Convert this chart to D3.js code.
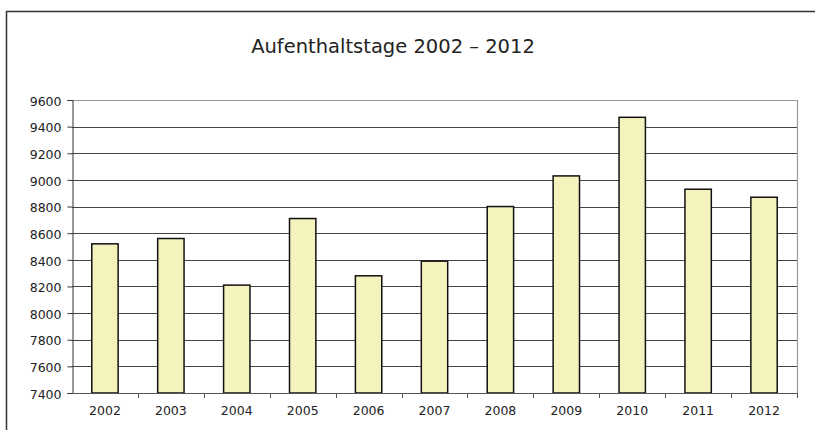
<!DOCTYPE html>
<html>
<head>
<meta charset="utf-8">
<script src="https://cdn.jsdelivr.net/npm/d3@7"></script>
<style>
  body { margin: 0; background: #fff; }
  text { font-family: "DejaVu Sans", Verdana, sans-serif; fill: #222; }
</style>
</head>
<body>
<div id="chart"></div>
<script>
// data
const years = ["2002", "2003", "2004", "2005", "2006", "2007", "2008", "2009", "2010", "2011", "2012"];
const tage = [8520, 8560, 8210, 8710, 8280, 8390, 8800, 9030, 9470, 8930, 8870];
const yTicks = [7400, 7600, 7800, 8000, 8200, 8400, 8600, 8800, 9000, 9200, 9400, 9600];
const title = "Aufenthaltstage 2002 \u2013 2012";

const width = 815, height = 430;
const plot = { left: 72, right: 797, top: 100, bottom: 393 };

const svg = d3.select("#chart")
  .append("svg")
  .attr("width", width)
  .attr("height", height);

// outer chart frame (runs off the right and bottom edge)
svg.append("rect")
  .attr("x", 6.5)
  .attr("y", 11.5)
  .attr("width", 820)
  .attr("height", 440)
  .attr("fill", "none")
  .attr("stroke", "#333")
  .attr("stroke-width", 1.5);

svg.append("text")
  .attr("x", 393)
  .attr("y", 53)
  .attr("text-anchor", "middle")
  .style("font-size", "19.5px")
  .attr("fill", "#222")
  .text(title);

const x = d3.scaleBand()
  .domain(years)
  .range([plot.left, plot.right])
  .padding(0);

const y = d3.scaleLinear()
  .domain([7400, 9600])
  .range([plot.bottom, plot.top]);

// gridlines
svg.append("g")
  .selectAll("line")
  .data(yTicks.slice(1, -1))
  .enter().append("line")
  .attr("x1", plot.left)
  .attr("x2", plot.right)
  .attr("y1", d => Math.round(y(d)) + 0.5)
  .attr("y2", d => Math.round(y(d)) + 0.5)
  .attr("stroke", "#444")
  .attr("stroke-width", 1);

// plot area border (top/right)
svg.append("path")
  .attr("d", `M${plot.left},${plot.top + 0.5}H${plot.right + 0.5}V${plot.bottom}`)
  .attr("fill", "none")
  .attr("stroke", "#999")
  .attr("stroke-width", 1.2);

// bars, Excel style gap width 150%
const barW = x.bandwidth() * 0.4;
svg.append("g")
  .selectAll("rect")
  .data(years.map((yr, i) => ({ yr, v: tage[i] })))
  .enter().append("rect")
  .attr("x", d => x(d.yr) + (x.bandwidth() - barW) / 2)
  .attr("width", barW)
  .attr("y", d => y(d.v))
  .attr("height", d => plot.bottom - y(d.v))
  .attr("fill", "#f5f3bd")
  .attr("stroke", "#111")
  .attr("stroke-width", 1.5);

// y axis
const yAxis = svg.append("g")
  .attr("transform", `translate(${plot.left + 0.5},0)`)
  .call(d3.axisLeft(y).tickValues(yTicks).tickSize(5).tickPadding(6).tickFormat(d3.format("d")));
yAxis.select(".domain").attr("stroke", "#333");
yAxis.selectAll(".tick line").attr("stroke", "#333");
yAxis.selectAll("text")
  .style("font-size", "12.5px")
  .attr("dy", "0.42em")
  .attr("fill", "#222");

// x axis, ticks between categories
const xAxis = svg.append("g")
  .attr("transform", `translate(0,${plot.bottom + 0.5})`)
  .call(d3.axisBottom(x).tickSize(0).tickPadding(13));
xAxis.select(".domain").attr("stroke", "#555").attr("d", `M${plot.left},0H${plot.right + 1}`);
xAxis.selectAll("text")
  .style("font-size", "12.5px")
  .attr("fill", "#222");

svg.append("g")
  .attr("transform", `translate(0,${plot.bottom})`)
  .selectAll("line")
  .data(years.slice(1).concat(["end"]))
  .enter().append("line")
  .attr("x1", (d, i) => Math.round(plot.left + x.step() * (i + 1)) + 0.5)
  .attr("x2", (d, i) => Math.round(plot.left + x.step() * (i + 1)) + 0.5)
  .attr("y1", 0)
  .attr("y2", 5)
  .attr("stroke", "#555");
</script>
</body>
</html>
